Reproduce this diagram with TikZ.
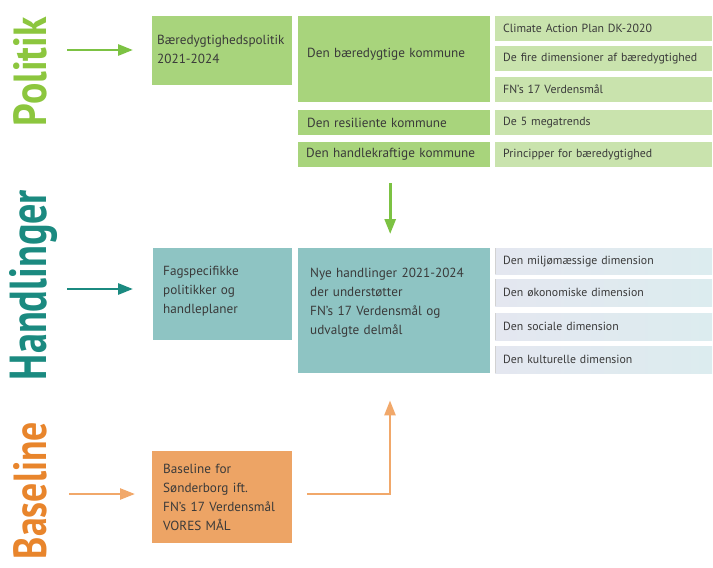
\documentclass[tikz,border=0pt]{standalone}
\usepackage{fontspec}
\setmainfont{PT Sans}
\usetikzlibrary{arrows.meta}

\definecolor{polgreen}{HTML}{8CC63E}
\definecolor{boxgreen}{HTML}{A8D47C}
\definecolor{lightgreen}{HTML}{C9E3AD}
\definecolor{arrgreen}{HTML}{7CC243}
\definecolor{handteal}{HTML}{1B8A80}
\definecolor{boxteal}{HTML}{8EC4C3}
\definecolor{dimleft}{HTML}{E4E7F0}
\definecolor{dimright}{HTML}{DCECEF}
\definecolor{baseorange}{HTML}{E8852C}
\definecolor{boxorange}{HTML}{EDA465}
\definecolor{arrorange}{HTML}{F1A86A}
\definecolor{txtgray}{HTML}{3A3A3A}

\begin{document}
\begin{tikzpicture}[x=1pt,y=-1pt,
    box/.style={anchor=north west,inner ysep=0pt,align=left,text=txtgray,
      font=\fontsize{13.2}{19}\selectfont},
    smallbox/.style={box,minimum width=217pt,minimum height=25pt,
      inner xsep=8pt,text width=201pt,font=\fontsize{11.8}{13}\selectfont},
    midbox/.style={box,minimum width=192pt,minimum height=25pt,
      inner xsep=9pt,text width=174pt},
    dimbox/.style={smallbox,left color=dimleft,right color=dimright,
      path picture={\draw[gray!35,line width=2pt]
        (path picture bounding box.north west) -- (path picture bounding box.south west);}},
    side/.style={rotate=90,anchor=base,font=\bfseries\fontsize{40}{40}\selectfont},
    flow/.style={-{Triangle[length=15pt,width=11pt]},line width=2.8pt}]

    \useasboundingbox (0,0) rectangle (713,568);

    % Politik
    \node[side,text=polgreen] (politik) at (46,71.5) {\resizebox{109pt}{33pt}{Politik}};
    \coordinate (polin) at (67,50);
    \node[box,fill=boxgreen,minimum width=140pt,minimum height=69pt,
      inner xsep=5pt,text width=130pt,text depth=22pt] (pol) at (152,16)
      {Bæredygtighedspolitik\\2021-2024};
    \node[midbox,fill=boxgreen,minimum height=86pt,text depth=13pt] (bk) at (298,16)
      {Den bæredygtige kommune};
    \node[smallbox,fill=lightgreen] (cap) at (495,16) {Climate Action Plan DK-2020};
    \node[smallbox,fill=lightgreen] (fire) at (495,46) {De fire dimensioner af bæredygtighed};
    \node[smallbox,fill=lightgreen] (fn) at (495,77) {FN's 17 Verdensmål};
    \node[midbox,fill=boxgreen] (res) at (298,110) {Den resiliente kommune};
    \node[smallbox,fill=lightgreen] (mega) at (495,110) {De 5 megatrends};
    \node[midbox,fill=boxgreen,inner xsep=8pt,text width=176pt] (hk) at (298,142)
      {Den handlekraftige kommune};
    \node[smallbox,fill=lightgreen] (princ) at (495,142) {Principper for bæredygtighed};

    \draw[flow,arrgreen,shorten >=19pt] (polin) -- (polin -| pol.west);

    % Handlinger
    \node[side,text=handteal] (handlinger) at (46,285) {\resizebox{190pt}{37pt}{Handlinger}};
    \coordinate (handin) at (67,289);
    \node[box,fill=boxteal,minimum width=139pt,minimum height=92pt,
      inner xsep=10pt,text width=119pt,text depth=46pt] (fag) at (153,248)
      {Fagspecifikke\\politikker og\\handleplaner};
    \node[midbox,fill=boxteal,minimum height=125pt,inner xsep=12pt,
      text width=168pt,text depth=75pt] (nye) at (298,248)
      {Nye handlinger 2021-2024\\der understøtter\\FN's 17 Verdensmål og\\udvalgte delmål};
    \node[dimbox,minimum height=26pt] (milj) at (495,248) {Den miljømæssige dimension};
    \node[dimbox,minimum height=27pt] (oko) at (495,279) {Den økonomiske dimension};
    \node[dimbox,minimum height=27pt] (soc) at (495,313) {Den sociale dimension};
    \node[dimbox,minimum height=27pt] (kult) at (495,346) {Den kulturelle dimension};

    \draw[flow,handteal,shorten >=20pt] (handin) -- (handin -| fag.west);
    \draw[flow,arrgreen,shorten <=16pt,shorten >=14pt]
      ([xshift=-4pt]hk.south) -- ([xshift=-4pt]nye.north);

    % Baseline
    \node[side,text=baseorange] (baseline) at (46,490.5) {\resizebox{137pt}{33pt}{Baseline}};
    \coordinate (basein) at (69,494);
    \node[box,fill=boxorange,minimum width=140pt,minimum height=92pt,
      inner xsep=11pt,text width=118pt] (base) at (152,451)
      {Baseline for\\Sønderborg ift.\\FN's 17 Verdensmål\\VORES MÅL};
    \coordinate (bend) at (390,494);

    \draw[flow,arrorange,line width=2.5pt,shorten >=17pt] (basein) -- (basein -| base.west);
    \draw[flow,arrorange,line width=2.5pt,shorten <=15pt,shorten >=27pt]
      (base.east |- bend) -- (bend) -- (bend |- nye.south);
\end{tikzpicture}
\end{document}
